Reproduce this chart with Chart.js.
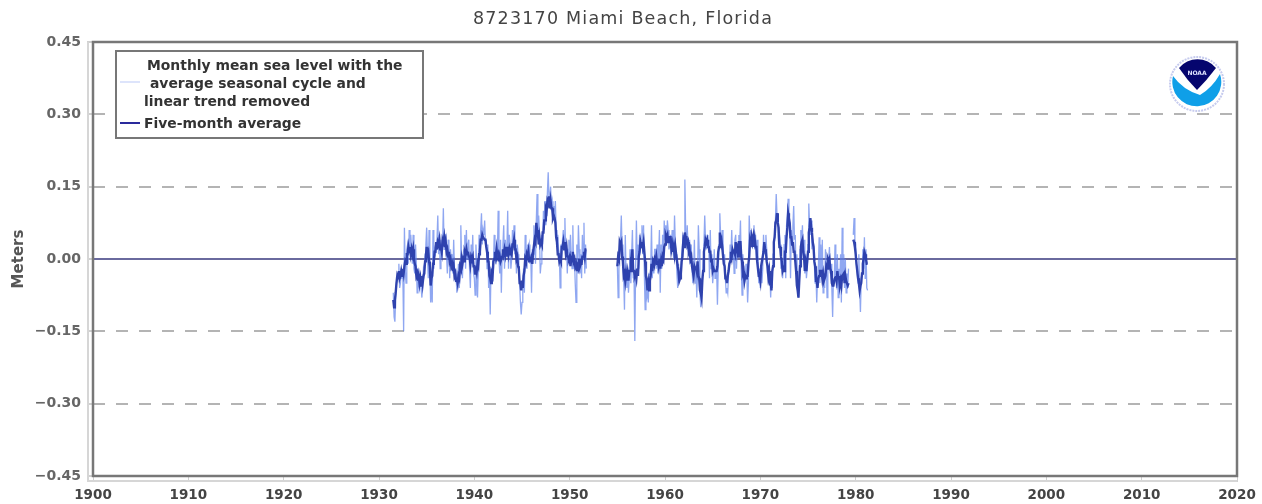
<!DOCTYPE html>
<html>
<head>
<meta charset="utf-8">
<title>8723170 Miami Beach, Florida</title>
<script src="https://cdn.jsdelivr.net/npm/chart.js@4"></script>
<style>
  body { margin: 0; background: #fff; width: 1262px; height: 504px; overflow: hidden; position: relative; font-family: "DejaVu Sans", sans-serif; }
  #myChart { position: absolute; left: 0; top: 0; filter: blur(0.6px); }
  #title { position: absolute; left: 323px; width: 600px; top: 8px; text-align: center; font-size: 17.5px; letter-spacing: 1.2px; color: #444; filter: blur(0.4px); }
  #legend { position: absolute; left: 115px; top: 50px; width: 305px; height: 85px; border: 2px solid #777; background: #fff; font-size: 13.9px; font-weight: bold; color: #333; filter: blur(0.4px); }
  #legend span { position: absolute; white-space: nowrap; }
  #legend i { position: absolute; left: 3px; width: 20px; }
  #logo { position: absolute; left: 1167px; top: 54px; filter: blur(0.5px); }
</style>
</head>
<body>
<canvas id="myChart" width="1262" height="504"></canvas>
<div id="title">8723170 Miami Beach, Florida</div>
<div id="legend">
  <i style="top:29px;height:2px;background:#dde4fb"></i>
  <span style="left:30px;top:5px">Monthly mean sea level with the</span>
  <span style="left:33px;top:23px">average seasonal cycle and</span>
  <span style="left:27px;top:41px">linear trend removed</span>
  <i style="top:70px;height:2px;background:#2a2a9c"></i>
  <span style="left:27px;top:63px">Five-month average</span>
</div>
<svg id="logo" width="60" height="60" viewBox="-30 -30 60 60">
  <circle r="27" fill="#fff" stroke="#c6cbee" stroke-width="2" stroke-dasharray="2 1"/>
  <path d="M-18 -16 A24 24 0 0 1 19 -16 Q10 -4 0 6 Q-10 -4 -18 -16Z" fill="#05056e"/>
  <path d="M-24 -8 Q-14 6 3 11 Q15 4 23 -10 A24.5 24.5 0 1 1 -24 -8Z" fill="#0f9fe8"/>
  <text x="0" y="-9" text-anchor="middle" font-size="6" font-weight="bold" fill="#dfe3ff" font-family="DejaVu Sans">NOAA</text>
</svg>
<script>
const xTicks = [1900, 1910, 1920, 1930, 1940, 1950, 1960, 1970, 1980, 1990, 2000, 2010, 2020];
const yTicks = [-0.45, -0.30, -0.15, 0, 0.15, 0.30, 0.45];

// monthly values, first stretch starts July 1931
const monthlyA = [
  -.07,-.12,-.13,-.08,-.05,-.04,
  -.03,-.01,-.06,-.05,-.02,-.04,-.03,-.15,.065,-.02,-.05,.02,
  .03,-.01,.06,.01,.05,.02,-.01,.05,-.02,-.03,.03,-.01,
  -.07,-.02,-.05,-.06,-.03,-.06,-.08,-.05,-.02,-.03,.01,.03,
  .065,.01,-.04,.06,-.02,-.09,-.05,-.09,.06,-.02,.02,.01,
  .02,.04,.09,.01,.05,-.02,.04,.00,.03,.105,.02,.05,
  .05,.01,-.03,.04,.03,-.04,.02,-.01,.01,-.03,.04,-.02,
  -.04,-.03,-.07,-.05,-.01,-.06,-.03,.07,.00,-.04,.01,.02,
  .05,-.02,.06,.00,.03,.04,-.02,-.06,.03,-.01,.05,-.03,
  -.04,-.075,.03,-.01,-.08,-.02,.05,.02,.06,.095,.03,.06,
  .05,.08,.03,.04,-.02,.03,-.06,-.03,-.115,-.02,-.05,-.01,
  -.02,.05,.03,-.01,.02,.01,.10,.00,-.03,.04,-.07,.01,
  .03,.07,-.02,.04,.01,.02,.10,-.02,.05,.03,-.02,.00,
  .06,.03,.07,.01,.04,-.03,.03,.01,-.02,-.05,-.09,-.115,
  -.09,-.06,-.02,-.07,.05,.00,-.02,.03,.02,.03,-.01,.01,
  -.07,.02,.01,.07,.03,-.01,.08,.135,.04,.09,.05,-.03,
  -.01,.05,.03,.10,.06,.12,.07,.09,.14,.18,.12,.13,
  .15,.11,.12,.08,.11,.09,.12,.06,.03,.05,.02,.01,
  -.06,.03,.00,.04,.06,.02,.085,.01,.03,-.03,.02,.04,
  -.01,.05,.01,-.02,.07,-.02,.00,-.05,-.09,.03,-.03,.07,
  .02,-.03,.01,-.04,.05,.00,.075,-.03,.03,-.02
];
// five-month average for the same months
const fiveMonthA = [
  -.085,-.10,-.085,-.07,-.05,-.035,
  -.04,-.025,-.04,-.035,-.025,-.035,-.02,-.03,-.015,-.005,-.01,.01,
  .01,.025,.015,.025,.01,.02,.01,.02,.0,-.01,-.015,-.035,
  -.03,-.045,-.035,-.05,-.04,-.055,-.035,-.05,-.035,-.03,-.005,.005,
  .025,.01,.015,-.005,-.015,-.055,-.04,-.035,-.01,-.005,.015,.015,
  .035,.02,.035,.03,.04,.02,.025,.015,.04,.035,.045,.025,
  .035,.015,.02,.005,.015,-.005,.0,-.015,-.01,-.025,-.015,-.035,
  -.03,-.045,-.04,-.05,-.035,-.04,-.015,-.02,.0,-.01,.0,-.005,
  .015,.01,.02,.01,.015,.005,.005,-.01,.005,.0,.005,-.015,
  -.015,-.03,-.015,-.025,-.01,-.015,.01,.015,.04,.04,.05,.045,
  .045,.04,.04,.025,.015,-.005,-.005,-.035,-.04,-.05,-.03,-.035,
  -.005,.0,.015,.005,.02,.005,.01,-.005,.005,-.005,.0,.005,
  .02,.01,.02,.01,.025,.005,.025,.01,.02,.01,.015,.01,
  .03,.03,.04,.02,.02,.0,.005,-.015,-.02,-.05,-.05,-.065,
  -.045,-.06,-.035,-.025,.0,-.005,.01,.005,.015,-.005,.0,.0,
  .005,-.01,.015,.015,.04,.035,.075,.06,.055,.03,.045,.03,
  .035,.03,.055,.055,.08,.08,.105,.10,.12,.115,.13,.105,
  .12,.105,.105,.085,.09,.085,.075,.045,.035,.01,.01,-.005,
  .0,-.005,.025,.025,.035,.02,.035,.015,.025,.005,.005,.0,
  .005,-.015,.0,-.005,.015,-.005,.0,-.015,-.01,-.025,-.015,-.02,
  .0,-.015,-.01,-.01,.005,.005,.015,.005,.02,.02
];

// second stretch starts January 1955
const monthlyB = [
  -.01,-.08,-.02,.01,.04,.09,.02,.03,-.04,-.105,.05,-.03,
  -.06,-.02,-.07,-.04,.02,-.05,.01,.06,-.04,-.03,-.17,-.02,
  .08,.0,.03,-.02,.05,.02,.03,.07,.01,.07,-.03,-.105,
  -.04,-.08,-.07,-.09,-.03,-.05,-.02,.07,-.04,.0,-.03,.02,
  .02,-.02,.03,-.03,.01,.06,-.07,.03,-.02,.05,-.01,.08,
  .04,.07,.03,.08,.06,.02,.03,.05,.01,.06,.02,.00,
  .09,.03,.01,-.03,-.06,-.01,-.05,-.03,-.02,.01,.03,.05,
  .03,.165,.06,.03,.07,.02,.01,.04,-.01,.03,-.02,-.05,
  -.03,.04,-.05,-.02,-.08,-.03,.07,.02,-.07,-.10,-.08,-.04,
  .0,.03,.09,.04,.02,.05,.03,.04,-.04,.06,-.02,.01,
  -.05,-.03,.02,-.04,-.03,-.02,-.095,-.02,.03,.095,.05,.02,
  .06,.04,-.01,.01,-.04,-.07,-.06,-.07,-.03,-.02,.03,.01,
  .06,.0,.02,-.03,.04,.05,-.02,.03,.01,.05,.03,.08,
  -.02,-.075,.01,-.03,-.05,-.04,-.01,-.03,-.09,-.05,.09,.04,
  .06,.04,.03,.05,.07,.02,.05,.0,.04,.01,-.05,-.02,
  -.06,-.03,-.05,-.02,.05,.01,.03,.05,.02,-.03,-.02,-.05,
  -.03,-.08,-.04,-.06,.01,.03,.05,.08,.135,.09,.08,.03,
  .05,.03,-.02,.0,-.04,-.01,.03,.05,-.04,.07,.09,.125,
  .08,.05,-.04,.06,.03,.07,.11,.04,.05,-.03,.01,-.07,
  -.08,-.03,.02,.06,.03,.07,.0,.04,-.03,.01,-.04,-.02,
  .03,.115,.07,.05,.08,.02,.04,.03,-.01,-.05,-.03,-.09,
  -.04,-.02,.045,-.05,.03,-.03,.04,-.07,-.03,-.06,.02,-.01,
  -.08,-.02,.0,.025,-.03,-.01,-.06,-.12,-.04,-.05,.03,-.04,
  -.06,.01,-.08,-.02,-.05,.01,-.09,.065,-.03,.01,-.06,.0,
  -.07,-.03,-.06,-.02
];
const fiveMonthB = [
  -.015,.005,.0,.035,.03,.035,.005,-.005,-.035,-.03,-.045,-.03,
  -.045,-.03,-.045,-.025,-.025,.0,.005,.02,-.025,-.025,-.035,-.03,
  -.04,-.02,-.035,.005,.015,.035,.025,.035,.025,.035,.015,-.005,
  -.035,-.045,-.065,-.05,-.065,-.045,-.035,-.01,-.025,-.005,-.01,.0,
  -.005,.005,-.01,-.005,-.015,.0,-.02,-.005,-.015,.005,.0,.025,
  .03,.05,.045,.05,.035,.045,.045,.045,.02,.03,.015,.025,
  .01,.025,.01,.01,-.015,-.025,-.045,-.04,-.03,-.005,.005,.035,
  .025,.055,.045,.045,.03,.035,.015,.02,.0,.005,-.015,-.025,
  -.035,-.015,-.02,-.015,-.025,-.005,-.035,-.04,-.065,-.07,-.08,-.045,
  -.025,.015,.025,.04,.035,.04,.025,.025,.015,.015,-.005,.0,
  -.025,-.02,-.025,-.025,-.025,-.025,-.015,.015,.025,.055,.035,.04,
  .025,.025,-.01,-.015,-.04,-.04,-.05,-.035,-.025,-.01,-.005,.015,
  .005,.02,.015,.015,.01,.035,.02,.025,.005,.035,.035,.035,
  .005,-.005,-.03,-.025,-.045,-.035,-.04,-.035,-.035,-.01,.005,.035,
  .025,.045,.035,.045,.025,.04,.025,.025,-.005,-.005,-.035,-.035,
  -.045,-.015,-.015,.005,.015,.035,.02,.015,-.005,-.015,-.035,-.025,
  -.055,-.045,-.065,-.025,-.015,.035,.045,.075,.08,.095,.075,.065,
  .025,.025,.005,-.005,-.025,-.02,-.025,.015,.015,.045,.065,.095,
  .085,.075,.045,.045,.03,.035,.015,.015,-.005,-.025,-.055,-.065,
  -.08,-.045,-.015,.025,.035,.04,.015,.005,-.025,-.01,-.025,-.005,
  .015,.055,.065,.085,.065,.055,.035,.025,-.005,-.015,-.045,-.045,
  -.06,-.04,-.035,-.025,-.025,-.025,-.04,-.03,-.045,-.04,-.035,-.015,
  -.02,.0,-.005,.0,-.02,-.025,-.05,-.055,-.055,-.045,-.04,-.035,
  -.045,-.025,-.04,-.035,-.055,-.045,-.055,-.035,-.035,-.03,-.05,-.035,
  -.045,-.045,-.055,-.05
];

// last stretch starts October 1979
const monthlyC = [
  .05,.085,.04,
  .03,-.01,-.03,-.05,.01,-.06,-.11,-.04,-.03,.02,-.02,.045,
  -.04,.02,-.06,-.065
];
const fiveMonthC = [
  .04,.035,.025,
  .01,-.01,-.025,-.04,-.05,-.065,-.055,-.05,-.03,-.01,.0,.015,
  .01,.0,-.01,-.01
];

const stretchStarts = [1931.5, 1955, 1979.75];

function toPoints(stretches) {
  let pts = [];
  stretches.forEach(function(vals, s) {
    vals.forEach(function(v, i) {
      pts.push({x: stretchStarts[s] + i / 12, y: v});
    });
    pts.push({x: stretchStarts[s] + vals.length / 12, y: null});
  });
  return pts;
}

// frame, zero line and the pale axis strips outside the plot
const frame = {
  id: 'frame',
  beforeDatasetsDraw(chart) {
    const c = chart.ctx, a = chart.chartArea, y0 = chart.scales.y.getPixelForValue(0);
    c.save();
    c.strokeStyle = '#d6d6d6';
    c.lineWidth = 2;
    c.beginPath();
    c.moveTo(a.left - 5, a.top);
    c.lineTo(a.left - 5, a.bottom + 5);
    c.lineTo(a.right, a.bottom + 5);
    c.stroke();
    c.strokeStyle = '#6a6a9e';
    c.lineWidth = 2;
    c.beginPath();
    c.moveTo(a.left, y0);
    c.lineTo(a.right, y0);
    c.stroke();
    c.restore();
  },
  afterDraw(chart) {
    const c = chart.ctx, a = chart.chartArea;
    c.save();
    c.strokeStyle = '#777';
    c.lineWidth = 2.5;
    c.strokeRect(a.left, a.top, a.right - a.left, a.bottom - a.top);
    c.restore();
  }
};

const ctx = document.getElementById('myChart').getContext('2d');

const myChart = new Chart(ctx, {
  type: 'line',
  plugins: [frame],
  data: {
    datasets: [{
      label: 'Five-month average',
      data: toPoints([fiveMonthA, fiveMonthB, fiveMonthC]),
      borderColor: 'rgba(40,60,170,0.95)',
      borderWidth: 2.4,
      pointRadius: 0,
      tension: 0,
      spanGaps: false
    }, {
      label: 'Monthly mean sea level with the average seasonal cycle and linear trend removed',
      data: toPoints([monthlyA, monthlyB, monthlyC]),
      borderColor: 'rgba(95,130,235,0.7)',
      borderWidth: 1.3,
      pointRadius: 0,
      tension: 0,
      spanGaps: false
    }]
  },
  options: {
    responsive: false,
    animation: false,
    layout: { padding: { top: 42, right: 25 } },
    plugins: { legend: { display: false }, tooltip: { enabled: false } },
    scales: {
      x: {
        type: 'linear',
        min: 1900,
        max: 2020,
        afterBuildTicks(scale) { scale.ticks = xTicks.map(v => ({value: v})); },
        afterFit(scale) { scale.height = 28; },
        grid: { drawOnChartArea: false, tickLength: 6, tickColor: '#d0d0d0' },
        border: { display: false },
        ticks: {
          padding: 5,
          maxRotation: 0,
          autoSkip: false,
          color: '#444',
          font: { family: 'DejaVu Sans', size: 13.5, weight: 'bold' },
          callback: v => String(v)
        }
      },
      y: {
        min: -0.45,
        max: 0.45,
        afterBuildTicks(scale) { scale.ticks = yTicks.map(v => ({value: v})); },
        afterFit(scale) { scale.width = 93; },
        grid: {
          color: c => (Math.abs(c.tick.value) < 0.01 || Math.abs(c.tick.value) > 0.4 ? 'rgba(0,0,0,0)' : '#b4b4b4'),
          lineWidth: 2,
          tickLength: 6,
          tickColor: '#d0d0d0'
        },
        border: { display: false, dash: [12, 11] },
        title: {
          display: true,
          text: 'Meters',
          color: '#555',
          padding: { top: 10, bottom: 6 },
          font: { family: 'DejaVu Sans', size: 15, weight: 'bold' }
        },
        ticks: {
          padding: 6,
          autoSkip: false,
          color: '#666',
          font: { family: 'DejaVu Sans', size: 14, weight: 'bold' },
          callback: v => (v < -0.001 ? '\u2212' : '') + Math.abs(v).toFixed(2)
        }
      }
    }
  }
});
</script>
</body>
</html>
